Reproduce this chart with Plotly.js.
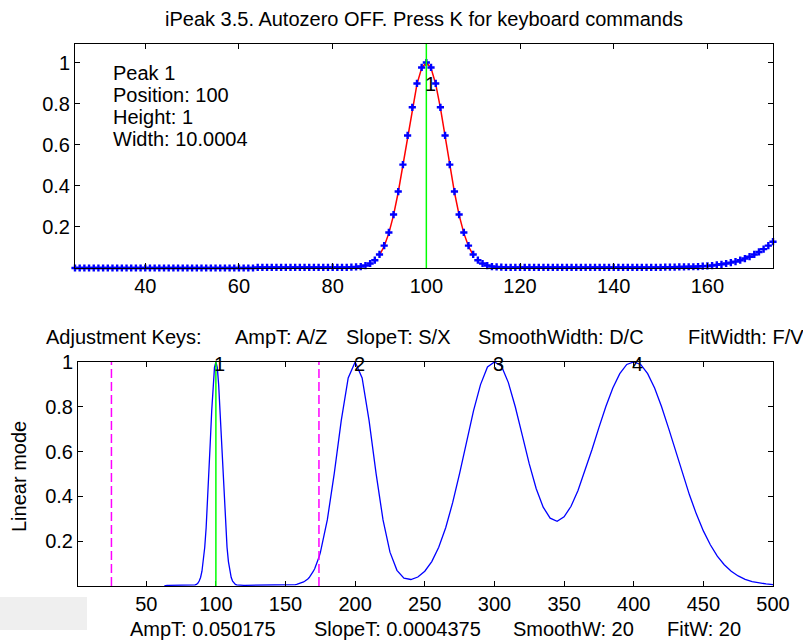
<!DOCTYPE html>
<html>
<head>
<meta charset="utf-8">
<script src="https://cdn.plot.ly/plotly-3.0.1.min.js"></script>
<style>html,body{margin:0;padding:0;background:#fff;}#chart{width:803px;height:640px;}</style>
</head>
<body>
<div id="chart"></div>
<script>
// ---- data ----
var topX = [25,26,27,28,29,30,31,32,33,34,35,36,37,38,39,40,41,42,43,44,45,46,47,48,49,50,51,52,53,54,55,56,57,58,59,60,61,62,63,64,65,66,67,68,69,70,71,72,73,74,75,76,77,78,79,80,81,82,83,84,85,86,87,88,89,90,91,92,93,94,95,96,97,98,99,100,101,102,103,104,105,106,107,108,109,110,111,112,113,114,115,116,117,118,119,120,121,122,123,124,125,126,127,128,129,130,131,132,133,134,135,136,137,138,139,140,141,142,143,144,145,146,147,148,149,150,151,152,153,154,155,156,157,158,159,160,161,162,163,164,165,166,167,168,169,170,171,172,173,174];
var topY = [0,0,0,0,0,0,0,0,0,0,
            0,0,0,0,0,0,0,0,0,0,
            0,0,0,0,0,0,0,0,0,0,
            0,0,0,0,0,0,0,0,0,
            0.003,0.003,0.003,0.003,0.003,0.003,0.003,0.003,0.003,0.003,
            0.003,0.003,0.003,0.003,0.003,0.003,0.003,0.003,0.003,0.003,
            0.004,
            0.005,0.007,0.012,0.022,0.038,0.066,0.109,0.173,0.260,0.372,0.503,0.645,0.782,0.898,0.976,1.000,
            0.976,0.898,0.782,0.645,0.503,0.372,0.260,0.173,0.109,0.066,0.038,0.022,0.012,0.007,0.005,0.004,
            0.003,0.003,0.003,0.003,0.003,0.003,0.003,0.003,0.003,0.003,
            0.003,0.003,0.003,0.003,0.003,0.003,0.003,0.003,0.003,0.003,
            0.003,0.003,0.003,0.003,0.003,0.003,0.003,0.003,0.003,0.003,
            0.003,0.003,0.003,0.003,
            0.004,0.004,0.004,0.005,0.005,0.006,0.006,0.007,0.009,0.010,0.012,0.015,
            0.018,0.022,0.026,0.031,0.038,0.046,0.055,0.066,0.078,0.092,0.109,0.128];
var fitX = [90,91,92,93,94,95,96,97,98,99,100,101,102,103,104,105,106,107,108,109,110];
var fitY = [0.0625,0.1058,0.1696,0.2570,0.3686,0.5,0.6417,0.7792,0.8950,0.9727,1,0.9727,0.8950,0.7792,0.6417,0.5,0.3686,0.2570,0.1696,0.1058,0.0625];
var tailX = [175,180,185,190,195,200,205,210,215,220,225,230,235,240,245,250,255,260,265,270,275,280,285,290,295,300,305,310,315,320,325,330,335,340,345,350,355,360,365,370,375,380,385,390,395,400,405,410,415,420,425,430,435,440,445,450,455,460,465,470,475,480,485,490,495,500];
var tailY = [0.149,0.295,0.503,0.738,0.929,1.000,0.929,0.738,0.503,0.295,0.151,0.070,0.035,0.029,0.040,0.066,0.109,0.173,0.260,0.372,0.503,0.645,0.783,0.899,0.978,1.000,0.982,0.908,0.799,0.672,0.545,0.434,0.352,0.303,0.289,0.309,0.356,0.426,0.512,0.608,0.707,0.801,0.884,0.948,0.989,1.000,0.989,0.948,0.884,0.800,0.705,0.604,0.503,0.407,0.321,0.246,0.184,0.133,0.095,0.066,0.045,0.030,0.020,0.013,0.009,0.006];
var bottomStartX = 63;
var peakX = [100,200,300,400];
var peakY = [1,1,1,1];
var peakLabels = ['1','2','3','4'];
var selectedPeakX = 100;
var windowX = [25,174];
var topTicksX = [40,60,80,100,120,140,160];
var bottomTicksX = [50,100,150,200,250,300,350,400,450,500];
var ticksY = [0.2,0.4,0.6,0.8,1];
var tickTextY = ['0.2','0.4','0.6','0.8','1'];
var titleText = 'iPeak 3.5. Autozero OFF. Press K for keyboard commands';
var peakInfo = ['Peak 1','Position: 100','Height: 1','Width: 10.0004'];
var keyTexts = ['Adjustment Keys:','AmpT: A/Z','SlopeT: S/X','SmoothWidth: D/C','FitWidth: F/V'];
var statusTexts = ['AmpT: 0.050175','SlopeT: 0.0004375','SmoothW: 20','FitW: 20'];

// ---- build ----
var W = 803, H = 640;
function px(x){return x/W;}
function py(y){return 1 - y/H;}
var FONT = 'Liberation Sans, Arial, sans-serif';
var FS = 20;

var botX = [], botY = [];
for (var i=0;i<topX.length;i++){ if (topX[i] >= bottomStartX){ botX.push(topX[i]); botY.push(topY[i]); } }
botX = botX.concat(tailX); botY = botY.concat(tailY);

var traces = [
  {x: fitX, y: fitY, xaxis:'x', yaxis:'y', mode:'lines', line:{color:'#ff0000', width:1.5}, hoverinfo:'skip'},
  {x: topX, y: topY, xaxis:'x', yaxis:'y', mode:'markers', cliponaxis:false,
   marker:{symbol:'cross', size:6, color:'#0000ff'}, hoverinfo:'skip'},
  {x: botX, y: botY, xaxis:'x2', yaxis:'y2', mode:'lines', line:{color:'#0000ff', width:1.3}, hoverinfo:'skip'}
];

function axisBase(){
  return {showline:true, linecolor:'#000', linewidth:1, mirror:'ticks', ticks:'inside', ticklen:5,
          tickcolor:'#000', tickwidth:1, showgrid:false, zeroline:false,
          tickfont:{family:FONT, size:FS, color:'#000'}, fixedrange:true};
}
var xa = axisBase(); xa.domain=[px(75),px(773)]; xa.range=[windowX[0],windowX[1]]; xa.anchor='y'; xa.tickvals=topTicksX; xa.ticktext=topTicksX.map(String);
var ya = axisBase(); ya.domain=[py(268),py(44)]; ya.range=[0,1.09]; ya.anchor='x'; ya.tickvals=ticksY; ya.ticktext=tickTextY;
var xb = axisBase(); xb.domain=[px(78),px(773)]; xb.range=[1,500]; xb.anchor='y2'; xb.tickvals=bottomTicksX; xb.ticktext=bottomTicksX.map(String);
var yb = axisBase(); yb.domain=[py(586),py(362)]; yb.range=[0,1]; yb.anchor='x2'; yb.tickvals=ticksY; yb.ticktext=tickTextY;

var ann = [];
function txt(t, x, y, opts){
  var a = {text:t, xref:'paper', yref:'paper', x:px(x), y:py(y), showarrow:false,
           xanchor:'left', yanchor:'middle', font:{family:FONT, size:FS, color:'#000'}};
  for (var k in (opts||{})) a[k]=opts[k];
  ann.push(a);
}
txt(titleText, 424, 19, {xanchor:'center'});
var infoY = [73,95,117,139];
for (var i=0;i<peakInfo.length;i++) txt(peakInfo[i], 111, infoY[i]);
var keyX = [44,233,344,476,686];
for (var i=0;i<keyTexts.length;i++) txt(keyTexts[i], keyX[i], 337);
var statX = [128,312,511,665];
for (var i=0;i<statusTexts.length;i++) txt(statusTexts[i], statX[i], 629);
txt('Linear mode', 19, 477, {xanchor:'center', textangle:-90});
// peak number labels
ann.push({text:peakLabels[0], xref:'x', yref:'y', x:peakX[0], y:peakY[0], xshift:4, yshift:-22, showarrow:false,
          xanchor:'center', yanchor:'middle', font:{family:FONT, size:FS, color:'#000'}});
for (var i=0;i<peakX.length;i++){
  ann.push({text:peakLabels[i], xref:'x2', yref:'y2', x:peakX[i], y:peakY[i], xshift:4, yshift:-2, showarrow:false,
            xanchor:'center', yanchor:'middle', font:{family:FONT, size:FS, color:'#000'}});
}

var shapes = [
  {type:'rect', xref:'paper', yref:'paper', x0:0, x1:px(87), y0:py(630), y1:py(597), fillcolor:'#efefef', line:{width:0}, layer:'below'},
  {type:'line', xref:'x', yref:'y domain', x0:selectedPeakX, x1:selectedPeakX, y0:0, y1:1, line:{color:'#00ff00', width:1.5}},
  {type:'line', xref:'x2', yref:'y2 domain', x0:selectedPeakX, x1:selectedPeakX, y0:0, y1:1, line:{color:'#00ff00', width:1.5}},
  {type:'line', xref:'x2', yref:'y2 domain', x0:windowX[0], x1:windowX[0], y0:0, y1:1, line:{color:'#ff00ff', width:1.5, dash:'9px,4px'}},
  {type:'line', xref:'x2', yref:'y2 domain', x0:windowX[1], x1:windowX[1], y0:0, y1:1, line:{color:'#ff00ff', width:1.5, dash:'9px,4px'}}
];

var layout = {
  width:W, height:H, margin:{l:0,r:0,t:0,b:0}, paper_bgcolor:'#fff', plot_bgcolor:'#fff',
  showlegend:false, font:{family:FONT, size:FS, color:'#000'},
  xaxis:xa, yaxis:ya, xaxis2:xb, yaxis2:yb, annotations:ann, shapes:shapes
};
Plotly.newPlot('chart', traces, layout, {staticPlot:true, displayModeBar:false});
</script>
</body>
</html>
